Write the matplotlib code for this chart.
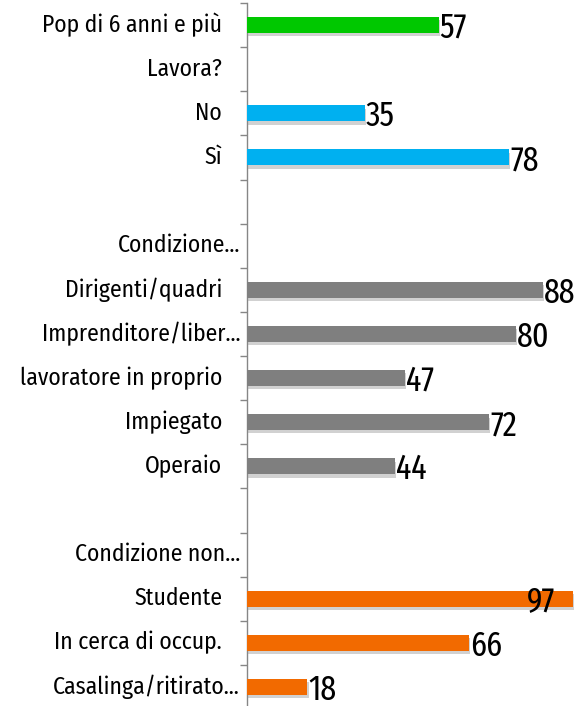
import numpy as np
import matplotlib.pyplot as plt
import matplotlib.patheffects as pe
from matplotlib.transforms import ScaledTranslation

categories = ['Pop di 6 anni e più', 'Lavora?', 'No', 'Sì', '',
              'Condizione…', 'Dirigenti/quadri', 'Imprenditore/liber…',
              'lavoratore in proprio', 'Impiegato', 'Operaio', '',
              'Condizione non…', 'Studente', 'In cerca di occup.',
              'Casalinga/ritirato…']
values = [57, np.nan, 35, 78, np.nan,
          np.nan, 88, 80, 47, 72, 44, np.nan,
          np.nan, 97, 66, 18]
groups = ['tot', '', 'lav', 'lav', '',
          '', 'prof', 'prof', 'prof', 'prof', 'prof', '',
          '', 'nonlav', 'nonlav', 'nonlav']
group_colors = {'tot': '#00C800', 'lav': '#00B0F0',
                'prof': '#7F7F7F', 'nonlav': '#F26A00', '': 'white'}

plt.rcParams['font.family'] = ['Fira Sans Extra Condensed', 'DejaVu Sans']
label_font = ['Fira Sans Condensed', 'DejaVu Sans']

fig = plt.figure(figsize=(5.74, 7.06), dpi=100)
ax = fig.add_axes([247 / 574, -3 / 706, 1 - 247 / 574, 706 / 706])

y = np.arange(len(categories))
vals = np.array(values, dtype=float)
colors = [group_colors[g] for g in groups]

shadow = [pe.SimplePatchShadow(offset=(0.8, -2.4), shadow_rgbFace='#9a9a9a', alpha=0.45),
          pe.Normal()]
bars = ax.barh(y, np.nan_to_num(vals), height=0.36, color=colors,
               edgecolor='none', zorder=3)
for b, v in zip(bars, vals):
    if np.isnan(v):
        b.set_visible(False)
    else:
        b.set_path_effects(shadow)

xmax = 97.3
ax.set_xlim(0, xmax)
ax.set_ylim(len(categories) - 0.5, -0.5)

# value labels
for yi, v in zip(y, vals):
    if np.isnan(v):
        continue
    off = ScaledTranslation(1 / 100, -3 / 100, fig.dpi_scale_trans)
    if v > xmax - 6:
        off = ScaledTranslation(-19 / 100, -3 / 100, fig.dpi_scale_trans)
        ax.text(1, yi, f'{v:.0f}', transform=ax.get_yaxis_transform() + off,
                ha='right', va='center', fontsize=25, color='black', zorder=5)
    else:
        ax.text(v, yi, f'{v:.0f}', transform=ax.transData + off,
                ha='left', va='center', fontsize=25, color='black', zorder=5)

# category labels
for yi, c in zip(y, categories):
    if not c:
        continue
    pad = 7 if c.endswith('…') else 25
    off = ScaledTranslation(-pad / 100, 0, fig.dpi_scale_trans)
    ax.text(0, yi, c, transform=ax.get_yaxis_transform() + off,
            ha='right', va='center', fontsize=17, color='black', clip_on=False,
            family=label_font)

ax.set_yticks([])
ax.set_yticks(np.arange(-0.5, len(categories), 1), minor=True)
ax.tick_params(axis='y', which='minor', length=7 * 0.72, color='#868686', width=1)
ax.set_xticks([])
for s in ['top', 'right', 'bottom']:
    ax.spines[s].set_visible(False)
ax.spines['left'].set_color('#868686')
ax.spines['left'].set_linewidth(1)

fig.savefig('out.png', dpi=100)
